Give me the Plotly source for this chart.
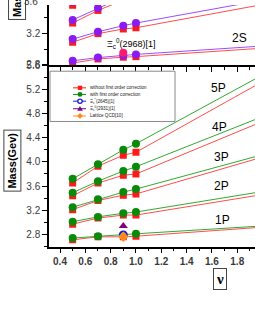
import plotly.graph_objects as go

W, H = 255, 330

# ---------------- data ----------------
nu = [0.5, 0.7, 0.9, 1.0]          # points with markers
nu_line = [0.5, 0.7, 0.9, 1.0, 2.0]  # fitted/extended lines

# P-wave masses (bottom panel): without / with first order correction
p1_without = [2.71, 2.76, 2.76, 2.77]
p1_with = [2.74, 2.77, 2.79, 2.81]
p2_without = [2.97, 3.07, 3.12, 3.12]
p2_with = [3.01, 3.09, 3.15, 3.17]
p3_without = [3.21, 3.36, 3.45, 3.47]
p3_with = [3.25, 3.38, 3.50, 3.55]
p4_without = [3.44, 3.65, 3.78, 3.80]
p4_with = [3.49, 3.68, 3.85, 3.92]
p5_without = [3.65, 3.93, 4.11, 4.16]
p5_with = [3.72, 3.96, 4.20, 4.30]
# line values at nu = 2.0 (extension of each line)
p_without_end = [2.92, 3.46, 4.08, 4.67, 5.33]
p_with_end = [2.94, 3.51, 4.12, 4.75, 5.44]
p_labels = ["1P", "2P", "3P", "4P", "5P"]
p_label_pos_x = [1.68, 1.674, 1.672, 1.656, 1.654]
p_label_pos_y = [3.037, 3.597, 4.077, 4.584, 5.226]

# S-wave masses (top panel)
s1_without = [2.824, 2.876, 2.898, 2.905]
s1_with = [2.852, 2.893, 2.920, 2.933]
s2_without = [3.087, 3.196, 3.255, 3.27]
s2_with = [3.127, 3.22, 3.297, 3.33]
s3_without = [3.33, 3.49, 3.62, 3.68]
s3_with = [3.37, 3.52, 3.66, 3.72]
s4_without = [3.555, 3.74, 3.90, 3.97]
s4_with = [3.60, 3.78, 3.94, 4.01]
s_without_end = [3.012, 3.564, 4.25, 4.55]
s_with_end = [3.04, 3.62, 4.30, 4.60]

# experimental / lattice points
exp_nu = 0.9
xi_2645 = 2.79
xi_2931 = 2.94
lattice = 2.76
xi_2968 = 2.955

RED = "#ff1a1a"
RED_L = "#ff4d4d"
GREEN = "#0a8a0a"
GREEN_L = "#33a833"
PURP = "#8a1cf0"
PURP_L = "#9b4dff"

fig = go.Figure()

def add_series(vals, end, color, lcolor, symbol, size, xa, ya):
    fig.add_trace(go.Scatter(x=nu_line, y=vals + [end], mode="lines",
                             line=dict(color=lcolor, width=1), xaxis=xa, yaxis=ya,
                             showlegend=False, hoverinfo="skip"))
    fig.add_trace(go.Scatter(x=nu, y=vals, mode="markers",
                             marker=dict(color=color, symbol=symbol, size=size, line=dict(width=0)),
                             xaxis=xa, yaxis=ya, showlegend=False))

# bottom panel
p_without = [p1_without, p2_without, p3_without, p4_without, p5_without]
p_with = [p1_with, p2_with, p3_with, p4_with, p5_with]
for i in range(5):
    add_series(p_without[i], p_without_end[i], RED, RED_L, "square", 7, "x", "y")
    add_series(p_with[i], p_with_end[i], GREEN, GREEN_L, "circle", 8, "x", "y")

fig.add_trace(go.Scatter(x=[exp_nu], y=[xi_2645], mode="markers", xaxis="x", yaxis="y",
                         marker=dict(color="white", size=7, symbol="circle",
                                     line=dict(color="#1a1ad0", width=2)), showlegend=False))
fig.add_trace(go.Scatter(x=[exp_nu], y=[xi_2931], mode="markers", xaxis="x", yaxis="y",
                         marker=dict(color="#800080", size=8, symbol="triangle-up"), showlegend=False))
fig.add_trace(go.Scatter(x=[exp_nu], y=[lattice], mode="markers", xaxis="x", yaxis="y",
                         marker=dict(color="#ff8c1a", size=8, symbol="diamond"), showlegend=False))

# top panel
s_without = [s1_without, s2_without, s3_without, s4_without]
s_with = [s1_with, s2_with, s3_with, s4_with]
for i in range(4):
    add_series(s_without[i], s_without_end[i], RED, RED_L, "square", 7, "x2", "y2")
    add_series(s_with[i], s_with_end[i], PURP, PURP_L, "circle", 8, "x2", "y2")
fig.add_trace(go.Scatter(x=[exp_nu], y=[xi_2968], mode="markers", xaxis="x2", yaxis="y2",
                         marker=dict(color="#ff1a6e", size=8, symbol="circle"), showlegend=False))

# ---------------- axes ----------------
x_dom = [49 / W, 1]
xr = [0.3131, 1.9403]
bot_dom = [1 - 250 / H, 1 - 61.7 / H]
bot_range = [2.597, 5.61]
top_dom = [1 - 62 / H, 1]
top_range = [2.8, 2.8 + 62 / 81.75]

tickc = "#3a3a3a"
common = dict(showline=True, linecolor="black", linewidth=1.5, ticks="outside",
              tickcolor="black", tickwidth=1.2, ticklen=5, showgrid=False, zeroline=False)

fig.update_layout(
    width=W, height=H, margin=dict(l=0, r=0, t=0, b=0),
    paper_bgcolor="white", plot_bgcolor="white",
    font=dict(family="Arial", color="black"),
    xaxis=dict(domain=x_dom, range=xr, anchor="y", dtick=0.2, tick0=0.4, tickformat=".1f",
               tickfont=dict(size=10, color=tickc, weight="bold"),
               minor=dict(ticks="outside", dtick=0.1, tick0=0.4, ticklen=3, tickcolor="black",
                          tickwidth=1, showgrid=False), **common),
    yaxis=dict(domain=bot_dom, range=bot_range, anchor="x", dtick=0.4, tick0=2.8, tickformat=".1f",
               tickfont=dict(size=10, color=tickc),
               minor=dict(ticks="outside", dtick=0.2, tick0=2.8, ticklen=3, tickcolor="black",
                          tickwidth=1, showgrid=False), **common),
    xaxis2=dict(domain=x_dom, range=xr, anchor="y2", dtick=0.2, tick0=0.4, showticklabels=False,
                minor=dict(ticks="outside", dtick=0.1, tick0=0.4, ticklen=3, tickcolor="black",
                           tickwidth=1, showgrid=False), **common),
    yaxis2=dict(domain=top_dom, range=top_range, anchor="x2", dtick=0.4, tick0=2.8, tickformat=".1f",
                tickfont=dict(size=10, color=tickc),
                minor=dict(ticks="outside", dtick=0.2, tick0=2.8, ticklen=3, tickcolor="black",
                           tickwidth=1, showgrid=False), **common),
    showlegend=False,
)

ann = []
for lab, lx, ly in zip(p_labels, p_label_pos_x, p_label_pos_y):
    ann.append(dict(x=lx, y=ly, xref="x", yref="y", text=lab, showarrow=False,
                    xanchor="center", yanchor="middle", font=dict(size=12, color="black")))
ann.append(dict(x=1.818, y=3.14, xref="x2", yref="y2", text="2S", showarrow=False,
                xanchor="center", yanchor="middle", font=dict(size=12, color="black")))
ann.append(dict(x=0.961, y=3.069, xref="x2", yref="y2", text="Ξ<sub>c</sub><sup>0</sup>(2968)[1]",
                xanchor="center", yanchor="middle", showarrow=False, font=dict(size=9, color="black")))
# axis titles
ann.append(dict(x=12.5 / W, y=1 - 161.5 / H, xref="paper", yref="paper", text="<b>Mass(Gev)</b>",
                xanchor="center", yanchor="middle",
                textangle=-90, showarrow=False, font=dict(size=11, color="black"),
                bordercolor="#444", borderwidth=1, borderpad=2, bgcolor="white"))
ann.append(dict(x=17.5 / W, y=1 - 16 / H, xref="paper", yref="paper", text="<b>Mass(Gev)</b>",
                xanchor="center", yanchor="bottom",
                textangle=-90, showarrow=False, font=dict(size=11, color="black"),
                bordercolor="#444", borderwidth=1, borderpad=2, bgcolor="white"))
ann.append(dict(x=220 / W, y=1 - 283.5 / H, xref="paper", yref="paper", text="<b>ν</b>",
                xanchor="center", yanchor="middle",
                showarrow=False, font=dict(size=15, family="Liberation Serif", color="black"),
                bordercolor="#444", borderwidth=1, borderpad=2, bgcolor="white"))
ann.append(dict(x=40 / W, y=1 + 3.4 / H, xref="paper", yref="paper", text="3.6",
                xanchor="right", yanchor="middle",
                showarrow=False, font=dict(size=10, color=tickc)))

# ---------------- hand-drawn legend ----------------
shapes = [dict(type="rect", xref="paper", yref="paper", x0=50 / W, x1=175 / W,
               y0=1 - 120.5 / H, y1=1 - 68.5 / H, line=dict(color="#8a8a8a", width=1),
               fillcolor="white", layer="above")]
leg_text = ["without first order correction", "with first order correction",
            "Ξ<sub>c</sub><sup>*</sup>(2645)[1]", "Ξ<sub>c</sub><sup>0</sup>(2931)[1]", "Lattice QCD[10]"]
leg_col = [RED, GREEN, "#1a1ad0", "#800080", "#ff8c1a"]
leg_y = [85.7, 92.5, 99.5, 107.3, 114.8]
mx = 80


def px(x):
    return x / W


def py_(y):
    return 1 - y / H


for t, c, yy in zip(leg_text, leg_col, leg_y):
    shapes.append(dict(type="line", xref="paper", yref="paper", x0=px(73), x1=px(86), y0=py_(yy),
                       y1=py_(yy), line=dict(color=c, width=1), layer="above"))
    ann.append(dict(x=px(87.5), y=py_(yy), xref="paper", yref="paper", text=t, xanchor="left",
                    yanchor="middle", showarrow=False, font=dict(size=4.6, color="#222")))

yy = leg_y[0]
shapes.append(dict(type="rect", xref="paper", yref="paper", x0=px(mx - 2.2), x1=px(mx + 2.2),
                   y0=py_(yy + 2.2), y1=py_(yy - 2.2), fillcolor=RED, line=dict(width=0), layer="above"))
yy = leg_y[1]
shapes.append(dict(type="circle", xref="paper", yref="paper", x0=px(mx - 2.5), x1=px(mx + 2.5),
                   y0=py_(yy + 2.5), y1=py_(yy - 2.5), fillcolor=GREEN, line=dict(width=0), layer="above"))
yy = leg_y[2]
shapes.append(dict(type="circle", xref="paper", yref="paper", x0=px(mx - 2.2), x1=px(mx + 2.2),
                   y0=py_(yy + 2.2), y1=py_(yy - 2.2), fillcolor="white",
                   line=dict(color="#1a1ad0", width=1.3), layer="above"))
yy = leg_y[3]
shapes.append(dict(type="path", xref="paper", yref="paper",
                   path=f"M {px(mx - 2.8)},{py_(yy + 2.2)} L {px(mx + 2.8)},{py_(yy + 2.2)} L {px(mx)},{py_(yy - 2.8)} Z",
                   fillcolor="#800080", line=dict(width=0), layer="above"))
yy = leg_y[4]
shapes.append(dict(type="path", xref="paper", yref="paper",
                   path=f"M {px(mx)},{py_(yy - 3)} L {px(mx + 3)},{py_(yy)} L {px(mx)},{py_(yy + 3)} L {px(mx - 3)},{py_(yy)} Z",
                   fillcolor="#ff8c1a", line=dict(width=0), layer="above"))

fig.update_layout(annotations=ann, shapes=shapes)
fig.write_html("out.html", config={"displayModeBar": False},
               post_script="document.body.style.margin='0';")
